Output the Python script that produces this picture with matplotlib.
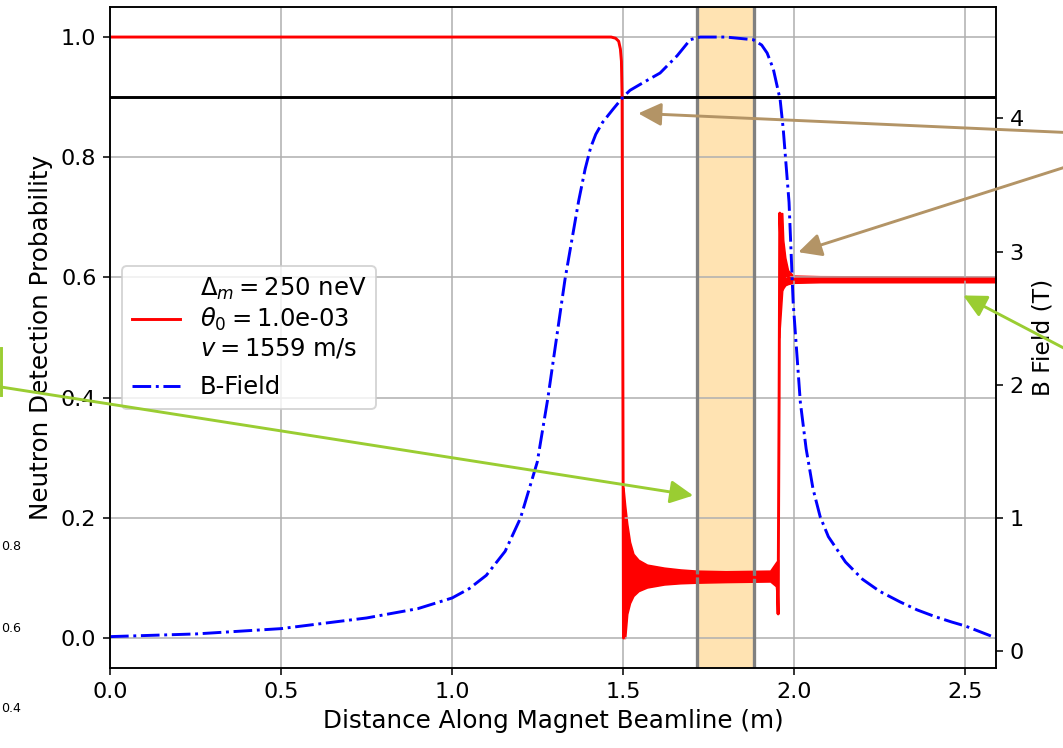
import numpy as np
import matplotlib.pyplot as plt
from matplotlib.lines import Line2D

W, H, DPI = 1063, 748, 140

# Neutron detection probability (mean line)
prob_x = [0.0, 1.465, 1.478, 1.487, 1.492, 1.495, 1.497, 1.499, 1.501, 1.52, 1.60, 1.80, 1.95,
          1.953, 1.956, 1.958, 1.962, 1.966, 1.975, 1.99, 2.59]
prob_y = [1.0, 1.0, 0.998, 0.993, 0.98, 0.96, 0.90, 0.50, 0.0, 0.12, 0.105, 0.102, 0.10,
          0.04, 0.40, 0.707, 0.64, 0.59, 0.605, 0.597, 0.597]

# oscillation envelopes of the probability
env1_x = [1.501, 1.506, 1.512, 1.52, 1.53, 1.545, 1.570, 1.620, 1.667, 1.716, 1.80, 1.93, 1.947, 1.953]
env1_lo = [0.0, 0.0, 0.04, 0.058, 0.07, 0.078, 0.084, 0.089, 0.091, 0.092, 0.093, 0.094, 0.086, 0.04]
env1_hi = [0.25, 0.22, 0.19, 0.16, 0.14, 0.13, 0.122, 0.117, 0.114, 0.112, 0.111, 0.112, 0.126, 0.13]
env2_x = [1.956, 1.965, 1.968, 1.974, 1.982, 1.997, 2.076, 2.59]
env2_lo = [0.50, 0.578, 0.582, 0.587, 0.589, 0.591, 0.592, 0.592]
env2_hi = [0.707, 0.707, 0.662, 0.633, 0.612, 0.603, 0.602, 0.601]

# B field along the beamline
b_x = [0.0, 0.25, 0.5, 0.75, 0.9, 1.0, 1.05, 1.1, 1.155, 1.2, 1.249, 1.28, 1.33, 1.37, 1.389,
       1.405, 1.42, 1.44, 1.471, 1.5, 1.52, 1.56, 1.608, 1.658, 1.696, 1.725, 1.80, 1.88, 1.905,
       1.921, 1.939, 1.959, 1.968, 1.985, 1.997, 2.018, 2.035, 2.055, 2.076, 2.10, 2.15, 2.20,
       2.25, 2.31, 2.36, 2.412, 2.46, 2.5, 2.55, 2.59]
b_y = [0.11, 0.13, 0.17, 0.25, 0.32, 0.40, 0.47, 0.57, 0.75, 1.0, 1.42, 1.9, 2.79, 3.38, 3.62,
       3.78, 3.88, 3.97, 4.07, 4.16, 4.21, 4.27, 4.34, 4.47, 4.59, 4.61, 4.61, 4.59, 4.55,
       4.49, 4.37, 4.14, 3.92, 3.37, 2.62, 1.87, 1.52, 1.22, 1.01, 0.86, 0.67, 0.54,
       0.45, 0.37, 0.31, 0.26, 0.22, 0.19, 0.14, 0.10]

span_lo, span_hi = 1.716, 1.883
threshold = 0.9
legend_label = ('$\\Delta_m = 250$ neV\n$\\theta_0 = $1.0e-03\n$v = 1559$ m/s')

# arrows: head in data coords, tail in image pixels (top-left origin)
green_heads = [(1.705, 0.237), (2.494, 0.57)]
green_tails = [(-50, 379), (1100, 367)]
tan_heads = [(1.544, 0.873), (2.012, 0.642)]
tan_tails = [(1100, 134), (1100, 156)]

# bits of a neighbouring panel that show at the left edge
stray_ticks = ['0.8', '0.6', '0.4']
stray_rows = [547, 628, 708]

plt.rcParams['font.size'] = 12.5
plt.rcParams['xtick.labelsize'] = 11.5
plt.rcParams['ytick.labelsize'] = 11.5

fig = plt.figure(figsize=(W / DPI, H / DPI), dpi=DPI)
ax = fig.add_axes([110 / W, 80 / H, 886 / W, 661 / H])

ax.axvspan(span_lo, span_hi, color='orange', alpha=0.3, lw=0)
ax.axvline(span_lo, color='grey', lw=1.7)
ax.axvline(span_hi, color='grey', lw=1.7)
ax.axhline(threshold, color='k', lw=1.5)

ax.fill_between(env1_x, env1_lo, env1_hi, color='red', lw=0.8)
ax.fill_between(env2_x, env2_lo, env2_hi, color='red', lw=0.8)
l1, = ax.plot(prob_x, prob_y, color='red', lw=1.5, label=legend_label)

ax.set_xlim(0, 2.59)
ax.set_ylim(-0.05, 1.05)
ax.grid(True)
ax.set_xlabel('Distance Along Magnet Beamline (m)', fontsize=12.7)
ax.set_ylabel('Neutron Detection Probability', fontsize=12.7)

ax2 = ax.twinx()
l2, = ax2.plot(b_x, b_y, color='blue', ls='-.', lw=1.5, label='B-Field')
ax2.set_ylabel('B Field (T)', fontsize=12)

ax.legend([l1, l2], [l1.get_label(), l2.get_label()], loc='center left', labelspacing=0.6)

for (hx, hy), (tx, ty) in zip(green_heads, green_tails):
    ax2.annotate('', xy=(hx, hy), xycoords=ax.transData, xytext=(tx, H - ty),
                 textcoords='figure pixels', annotation_clip=False,
                 arrowprops=dict(arrowstyle='-|>', color='yellowgreen', lw=1.5,
                                 mutation_scale=25, shrinkA=0, shrinkB=0))
for (hx, hy), (tx, ty) in zip(tan_heads, tan_tails):
    ax2.annotate('', xy=(hx, hy), xycoords=ax.transData, xytext=(tx, H - ty),
                 textcoords='figure pixels', annotation_clip=False,
                 arrowprops=dict(arrowstyle='-|>', color='#b39466', lw=1.5,
                                 mutation_scale=25, shrinkA=0, shrinkB=0))

fig.add_artist(Line2D([0.5 / W, 0.5 / W], [1 - 348 / H, 1 - 395 / H],
                      color='yellowgreen', lw=1.5))
for lab, row in zip(stray_ticks, stray_rows):
    fig.text(21 / W, 1 - row / H, lab, ha='right', va='center', fontsize=6.5)

fig.savefig('out.png', dpi=DPI)
